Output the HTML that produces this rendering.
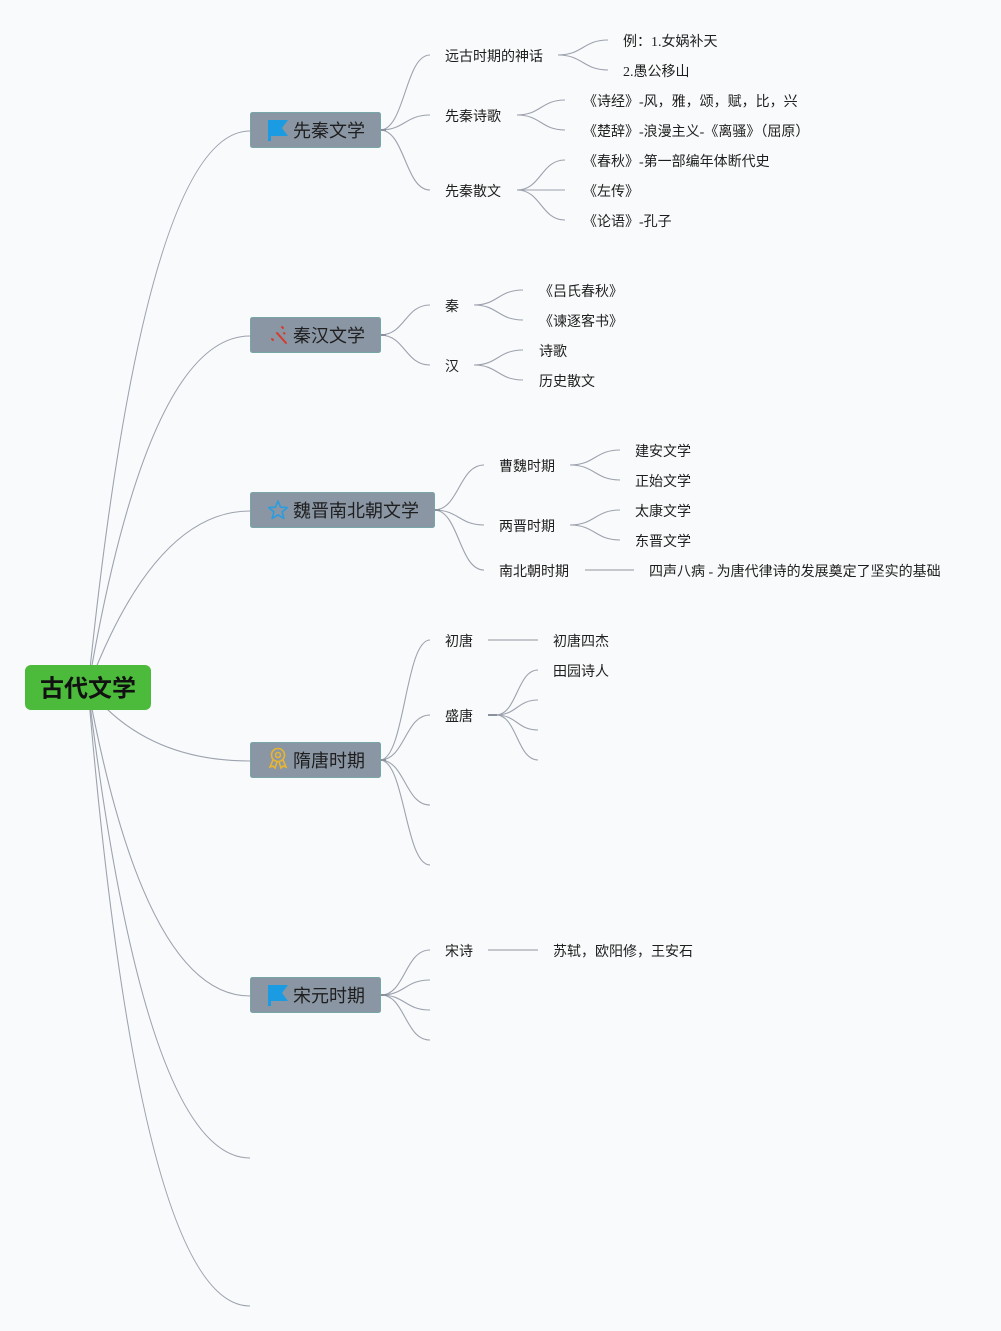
<!DOCTYPE html>
<html>
<head>
<meta charset="utf-8">
<style>
html,body{margin:0;padding:0;background:#f9fafb;}
svg{display:block;}
text{font-family:"Liberation Sans","Noto Sans CJK SC",sans-serif;fill:#1e1e1e;}
.t{font-size:14px;font-family:"Liberation Serif","Noto Sans CJK SC",sans-serif;}
.b{font-size:18px;}
</style>
</head>
<body>
<svg width="1001" height="1331" viewBox="0 0 1001 1331" xmlns="http://www.w3.org/2000/svg">
<rect width="1001" height="1331" fill="#f9fafb"/>
<g fill="none" stroke="#9ca2ae" stroke-width="1.1">
<!-- root curves -->
<path d="M88 688 Q145 131 250 131"/>
<path d="M88 688 Q148 336 250 336"/>
<path d="M88 688 Q155 511 250 511"/>
<path d="M88 688 Q145 761 250 761"/>
<path d="M88 688 Q145 996 250 996"/>
<path d="M88 688 Q145 1158 250 1158"/>
<path d="M88 688 Q140 1306 250 1306"/>

<!-- 先秦 children -->
<path d="M380 130 C405 130 405 55 430 55"/>
<path d="M380 130 C405 130 405 115 430 115"/>
<path d="M380 130 C405 130 405 190 430 190"/>
<path d="M558 55 C583 55 583 40 608 40"/>
<path d="M558 55 C583 55 583 70 608 70"/>
<path d="M517 115 C541 115 541 100 565 100"/>
<path d="M517 115 C541 115 541 130 565 130"/>
<path d="M517 190 C541 190 541 160 565 160"/>
<path d="M517 190 L565 190"/>
<path d="M517 190 C541 190 541 220 565 220"/>

<!-- 秦汉 -->
<path d="M380 335 C405 335 405 305 430 305"/>
<path d="M380 335 C405 335 405 365 430 365"/>
<path d="M474 305 C498 305 498 290 523 290"/>
<path d="M474 305 C498 305 498 320 523 320"/>
<path d="M474 365 C498 365 498 350 523 350"/>
<path d="M474 365 C498 365 498 380 523 380"/>

<!-- 魏晋 -->
<path d="M434 510 C459 510 459 465 484 465"/>
<path d="M434 510 C459 510 459 525 484 525"/>
<path d="M434 510 C459 510 459 570 484 570"/>
<path d="M570 465 C595 465 595 450 620 450"/>
<path d="M570 465 C595 465 595 480 620 480"/>
<path d="M570 525 C595 525 595 510 620 510"/>
<path d="M570 525 C595 525 595 540 620 540"/>

<!-- 隋唐 -->
<path d="M380 760 C405 760 405 640 430 640"/>
<path d="M380 760 C405 760 405 715 430 715"/>
<path d="M380 760 C405 760 405 805 430 805"/>
<path d="M380 760 C405 760 405 865 430 865"/>
<path d="M496 715 C517 715 517 670 538 670"/>
<path d="M496 715 C517 715 517 700 538 700"/>
<path d="M496 715 C517 715 517 730 538 730"/>
<path d="M496 715 C517 715 517 760 538 760"/>

<!-- 宋元 -->
<path d="M381 995 C405 995 405 950 430 950"/>
<path d="M381 995 C405 995 405 980 430 980"/>
<path d="M381 995 C405 995 405 1010 430 1010"/>
<path d="M381 995 C405 995 405 1040 430 1040"/>
</g>
<!-- stubs -->
<g stroke="#8a909c" stroke-width="2">
<line x1="488" y1="715" x2="497" y2="715"/>
<line x1="380" y1="130" x2="386" y2="130"/>
<line x1="380" y1="335" x2="386" y2="335"/>
<line x1="434" y1="510" x2="440" y2="510"/>
<line x1="380" y1="760" x2="386" y2="760"/>
<line x1="381" y1="995" x2="387" y2="995"/>
</g>
<!-- straight light lines -->
<g stroke="#c6c7cd" stroke-width="2">
<line x1="488" y1="640" x2="538" y2="640"/>
<line x1="585" y1="570" x2="634" y2="570"/>
<line x1="488" y1="950" x2="538" y2="950"/>
</g>

<!-- root -->
<rect x="25" y="665" width="126" height="45" rx="6" fill="#4cbb3b"/>
<text x="88" y="689" text-anchor="middle" dominant-baseline="central" style="font-size:24px;font-weight:bold;fill:#111;">古代文学</text>

<!-- boxes -->
<g fill="#8a96a4" stroke="#76a6a6" stroke-width="1">
<rect x="250.5" y="112.5" width="130" height="35" rx="2"/>
<rect x="250.5" y="317.5" width="130" height="35" rx="2"/>
<rect x="250.5" y="492.5" width="184" height="35" rx="2"/>
<rect x="250.5" y="742.5" width="130" height="35" rx="2"/>
<rect x="250.5" y="977.5" width="130" height="35" rx="2"/>
</g>
<text class="b" x="293" y="131" dominant-baseline="central">先秦文学</text>
<text class="b" x="293" y="336" dominant-baseline="central">秦汉文学</text>
<text class="b" x="293" y="511" dominant-baseline="central">魏晋南北朝文学</text>
<text class="b" x="293" y="761" dominant-baseline="central">隋唐时期</text>
<text class="b" x="293" y="996" dominant-baseline="central">宋元时期</text>

<!-- icons -->
<path d="M268 120 H288 L282 128 L288 136 H271 V141 H268 Z" fill="#1b9be1"/>
<path d="M268 985 H288 L282 993 L288 1001 H271 V1006 H268 Z" fill="#1b9be1"/>
<polygon points="278,501 280.6,507.2 287.3,507.6 282.2,511.9 283.8,518.4 278,514.8 272.2,518.4 273.8,511.9 268.7,507.6 275.4,507.2" fill="none" stroke="#2a9de0" stroke-width="1.6" stroke-linejoin="round"/>
<g stroke="#d63a2c" stroke-width="2" stroke-linecap="round">
<line x1="277" y1="333" x2="286" y2="343"/>
<line x1="272" y1="339" x2="273" y2="340"/>
<line x1="282" y1="327" x2="283" y2="328"/>
<line x1="284" y1="333" x2="284.5" y2="333.5"/>
</g>
<g fill="none" stroke="#e9b530" stroke-width="1.6">
<circle cx="278" cy="755" r="6.5"/>
<circle cx="278" cy="755" r="2.5"/>
<path d="M273 760 L270 767 L273 766 L275 768 L277 762"/>
<path d="M283 760 L286 767 L283 766 L281 768 L279 762"/>
</g>

<g transform="translate(0,1.5)">
<!-- 先秦 texts -->
<text class="t" x="445" y="56" dominant-baseline="central">远古时期的神话</text>
<text class="t" x="445" y="116" dominant-baseline="central">先秦诗歌</text>
<text class="t" x="445" y="191" dominant-baseline="central">先秦散文</text>
<text class="t" x="623" y="41" dominant-baseline="central">例：1.女娲补天</text>
<text class="t" x="623" y="71" dominant-baseline="central">2.愚公移山</text>
<text class="t" x="583" y="101" dominant-baseline="central">《诗经》-风，雅，颂，赋，比，兴</text>
<text class="t" x="583" y="131" dominant-baseline="central">《楚辞》-浪漫主义-《离骚》（屈原）</text>
<text class="t" x="583" y="161" dominant-baseline="central">《春秋》-第一部编年体断代史</text>
<text class="t" x="583" y="191" dominant-baseline="central">《左传》</text>
<text class="t" x="583" y="221" dominant-baseline="central">《论语》-孔子</text>

<!-- 秦汉 texts -->
<text class="t" x="445" y="306" dominant-baseline="central">秦</text>
<text class="t" x="445" y="366" dominant-baseline="central">汉</text>
<text class="t" x="539" y="291" dominant-baseline="central">《吕氏春秋》</text>
<text class="t" x="539" y="321" dominant-baseline="central">《谏逐客书》</text>
<text class="t" x="539" y="351" dominant-baseline="central">诗歌</text>
<text class="t" x="539" y="381" dominant-baseline="central">历史散文</text>

<!-- 魏晋 texts -->
<text class="t" x="499" y="466" dominant-baseline="central">曹魏时期</text>
<text class="t" x="499" y="526" dominant-baseline="central">两晋时期</text>
<text class="t" x="499" y="571" dominant-baseline="central">南北朝时期</text>
<text class="t" x="635" y="451" dominant-baseline="central">建安文学</text>
<text class="t" x="635" y="481" dominant-baseline="central">正始文学</text>
<text class="t" x="635" y="511" dominant-baseline="central">太康文学</text>
<text class="t" x="635" y="541" dominant-baseline="central">东晋文学</text>
<text class="t" x="649" y="571" dominant-baseline="central">四声八病 - 为唐代律诗的发展奠定了坚实的基础</text>

<!-- 隋唐 texts -->
<text class="t" x="445" y="641" dominant-baseline="central">初唐</text>
<text class="t" x="445" y="716" dominant-baseline="central">盛唐</text>
<text class="t" x="553" y="641" dominant-baseline="central">初唐四杰</text>
<text class="t" x="553" y="671" dominant-baseline="central">田园诗人</text>

<!-- 宋元 texts -->
<text class="t" x="445" y="951" dominant-baseline="central">宋诗</text>
<text class="t" x="553" y="951" dominant-baseline="central">苏轼，欧阳修，王安石</text>
</g>
</svg>
</body>
</html>
